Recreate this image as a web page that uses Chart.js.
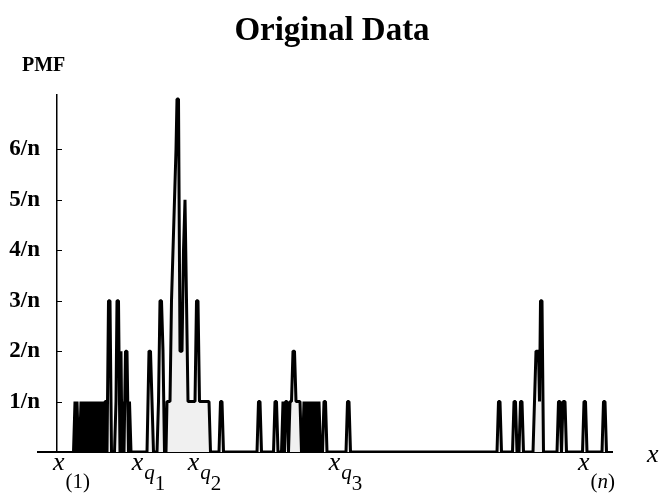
<!DOCTYPE html>
<html>
<head>
<meta charset="utf-8">
<script src="https://cdn.jsdelivr.net/npm/chart.js@4.4.1/dist/chart.umd.min.js"></script>
<style>
  body { margin: 0; background: #fff; }
  canvas { display: block; }
</style>
</head>
<body>
<canvas id="pmfChart" width="661" height="503"></canvas>
<script>
// grid positions of the sample and their counts (PMF = count/n), one pair of arrays per cluster
var X_A = [73.5, 75, 76, 77, 78.5, 79.5, 81, 82, 83, 84, 85, 86, 87, 88.5, 90, 91, 92, 93, 94, 95, 96, 97, 98, 99.5,
           101, 102, 103, 104, 105, 106, 107, 108.5, 110, 111.5, 114.5, 116, 117, 118.5, 120, 121, 122, 123, 124,
           125.5, 127, 128.5, 129.5, 131];
var K_A = [0, 1, 0, 1, 0, 0, 1, 0, 1, 0, 1, 0, 1, 0, 1, 0, 1, 0, 1, 0, 1, 0, 1, 0,
           1, 0, 1, 0, 1, 1, 0, 3, 3, 0, 0, 1, 3, 3, 0, 2, 0, 1, 0,
           2, 2, 0, 1, 0];

var X_B = [147, 149, 150.5, 152, 153.5, 157, 158.5, 160, 161.5, 163, 164.5, 166, 167, 170, 171.5, 173, 174.5, 176,
           177, 178.5, 180, 182, 183.5, 185, 186.5, 188, 195, 196.5, 198, 199.5, 209, 210.5, 219, 220.5, 222, 223.5];
var K_B = [0, 2, 2, 1, 0, 0, 1, 3, 3, 2, 0, 0, 1, 1, 3, 4, 5, 6,
           7, 7, 2, 2, 4, 5, 3, 1, 1, 3, 3, 1, 1, 0, 0, 1, 1, 0];

var X_C = [257, 258.5, 260, 261.5, 273.5, 275, 276.5, 278, 281.5, 283, 284.5, 285.5, 287, 288.5, 290, 291.5, 293,
           294.5, 296, 300, 301.5, 302.5, 304, 305, 306, 307, 308, 309, 310, 311, 312, 313, 314, 315, 316, 317.5,
           319, 320.5, 322.5, 324, 325.5, 327, 346, 347.5, 349, 350.5];
var K_C = [0, 1, 1, 0, 0, 1, 1, 0, 0, 1, 0, 1, 1, 0, 1, 1, 2,
           2, 1, 1, 0, 0, 1, 0, 1, 0, 1, 0, 1, 0, 1, 0, 1, 0, 1, 0,
           1, 0, 0, 1, 1, 0, 0, 1, 1, 0];

var X_D = [497, 498.5, 500, 501.5, 512.5, 514, 515.5, 517, 519, 520.5, 522, 523.5, 533, 534.5, 536, 538.5, 539.5,
           540.5, 542, 543.5, 557, 558.5, 560, 561.5, 563, 565, 566.5, 582.5, 584, 585.5, 587, 602, 603.5, 605, 606.5];
var K_D = [0, 1, 1, 0, 0, 1, 1, 0, 0, 1, 1, 0, 0, 1, 2, 2, 1,
           3, 3, 0, 0, 1, 1, 0, 1, 1, 0, 0, 1, 1, 0, 0, 1, 1, 0];

var Y_TICKS = [1, 2, 3, 4, 5, 6];
// order statistics / quartiles marked under the axis
var MARK_X = [71, 148, 204, 345, 596];
var MARK_SUB = ['(1)', 'q1', 'q2', 'q3', '(n)'];

var SERIF = '"Liberation Serif", "Times New Roman", serif';

var PMF_X = X_A.concat(X_B, X_C, X_D);
var PMF_K = K_A.concat(K_B, K_C, K_D);
var points = [];
for (var i = 0; i < PMF_X.length; i++) {
  points.push({x: PMF_X[i], y: PMF_K[i]});
}

function put(ctx, font, text, x, y) {
  ctx.font = font;
  ctx.fillText(text, x, y);
  return ctx.measureText(text).width;
}

// title, axis extension, tick marks, labels under the axis
var decor = {
  id: 'decor',
  afterDraw: function(chart) {
    var ctx = chart.ctx;
    var area = chart.chartArea;
    var xs = chart.scales.x, ys = chart.scales.y;
    ctx.save();
    ctx.strokeStyle = '#000';
    ctx.lineWidth = 2;
    ctx.beginPath();
    ctx.moveTo(area.left - 20, area.bottom);
    ctx.lineTo(area.left, area.bottom);
    ctx.stroke();

    ctx.lineWidth = 1;
    for (var i = 0; i < Y_TICKS.length; i++) {
      var y = Math.round(ys.getPixelForValue(Y_TICKS[i])) + 0.5;
      ctx.beginPath();
      ctx.moveTo(area.left, y);
      ctx.lineTo(area.left + 5, y);
      ctx.stroke();
    }

    ctx.fillStyle = '#000';
    ctx.textBaseline = 'alphabetic';
    ctx.textAlign = 'center';
    put(ctx, 'bold 33px ' + SERIF, 'Original Data', 332, 40);

    ctx.textAlign = 'left';
    put(ctx, 'bold 20px ' + SERIF, 'PMF', 22, 71);
    put(ctx, 'italic 26px ' + SERIF, 'x', 647, 462);

    var fx = 'italic 26px ' + SERIF;
    var fs = '21px ' + SERIF;
    var fsi = 'italic 21px ' + SERIF;
    for (var j = 0; j < MARK_X.length; j++) {
      var cx = xs.getPixelForValue(MARK_X[j]);
      var sub = MARK_SUB[j];
      ctx.font = fx;
      var wx = ctx.measureText('x').width;
      var wSub;
      if (sub.charAt(0) === 'q') {
        ctx.font = fsi;
        var wq = ctx.measureText('q').width;
        ctx.font = fs;
        wSub = wq + ctx.measureText(sub.charAt(1)).width;
        var x0 = cx - (wx + wSub) / 2;
        put(ctx, fx, 'x', x0, 470);
        put(ctx, fsi, 'q', x0 + wx + 1, 479);
        put(ctx, fs, sub.charAt(1), x0 + wx + wq + 1, 490);
      } else {
        ctx.font = fs;
        wSub = ctx.measureText(sub).width;
        var x1 = cx - (wx + wSub) / 2;
        put(ctx, fx, 'x', x1, 470);
        if (sub === '(n)') {
          var p = x1 + wx + 1;
          p += put(ctx, fs, '(', p, 488);
          p += put(ctx, fsi, 'n', p, 488);
          put(ctx, fs, ')', p, 488);
        } else {
          put(ctx, fs, sub, x1 + wx + 1, 488);
        }
      }
    }
    ctx.restore();
  }
};

new Chart(document.getElementById('pmfChart'), {
  type: 'line',
  data: {
    datasets: [{
      data: points,
      borderColor: '#000',
      borderWidth: 3,
      borderJoinStyle: 'bevel',
      backgroundColor: '#f0f0f0',
      fill: 'origin',
      pointRadius: 0,
      tension: 0
    }]
  },
  options: {
    responsive: false,
    animation: false,
    layout: { padding: { left: 0, right: 49, top: 95, bottom: 0 } },
    plugins: {
      legend: { display: false },
      tooltip: { enabled: false },
      title: { display: false }
    },
    scales: {
      x: {
        type: 'linear',
        min: 57,
        max: 612,
        grid: { display: false },
        border: { display: true, color: '#000', width: 2 },
        ticks: { display: false },
        afterFit: function(s) { s.height = 51; }
      },
      y: {
        min: 0,
        max: 7.08,
        grid: { display: false },
        border: { display: true, color: '#000', width: 1.5 },
        afterBuildTicks: function(s) {
          s.ticks = Y_TICKS.map(function(v) { return {value: v}; });
        },
        afterFit: function(s) { s.width = 57; },
        ticks: {
          color: '#000',
          padding: 9,
          font: { family: SERIF, size: 23, weight: 'bold' },
          callback: function(v) { return v + '/n'; }
        }
      }
    }
  },
  plugins: [decor]
});
</script>
</body>
</html>
